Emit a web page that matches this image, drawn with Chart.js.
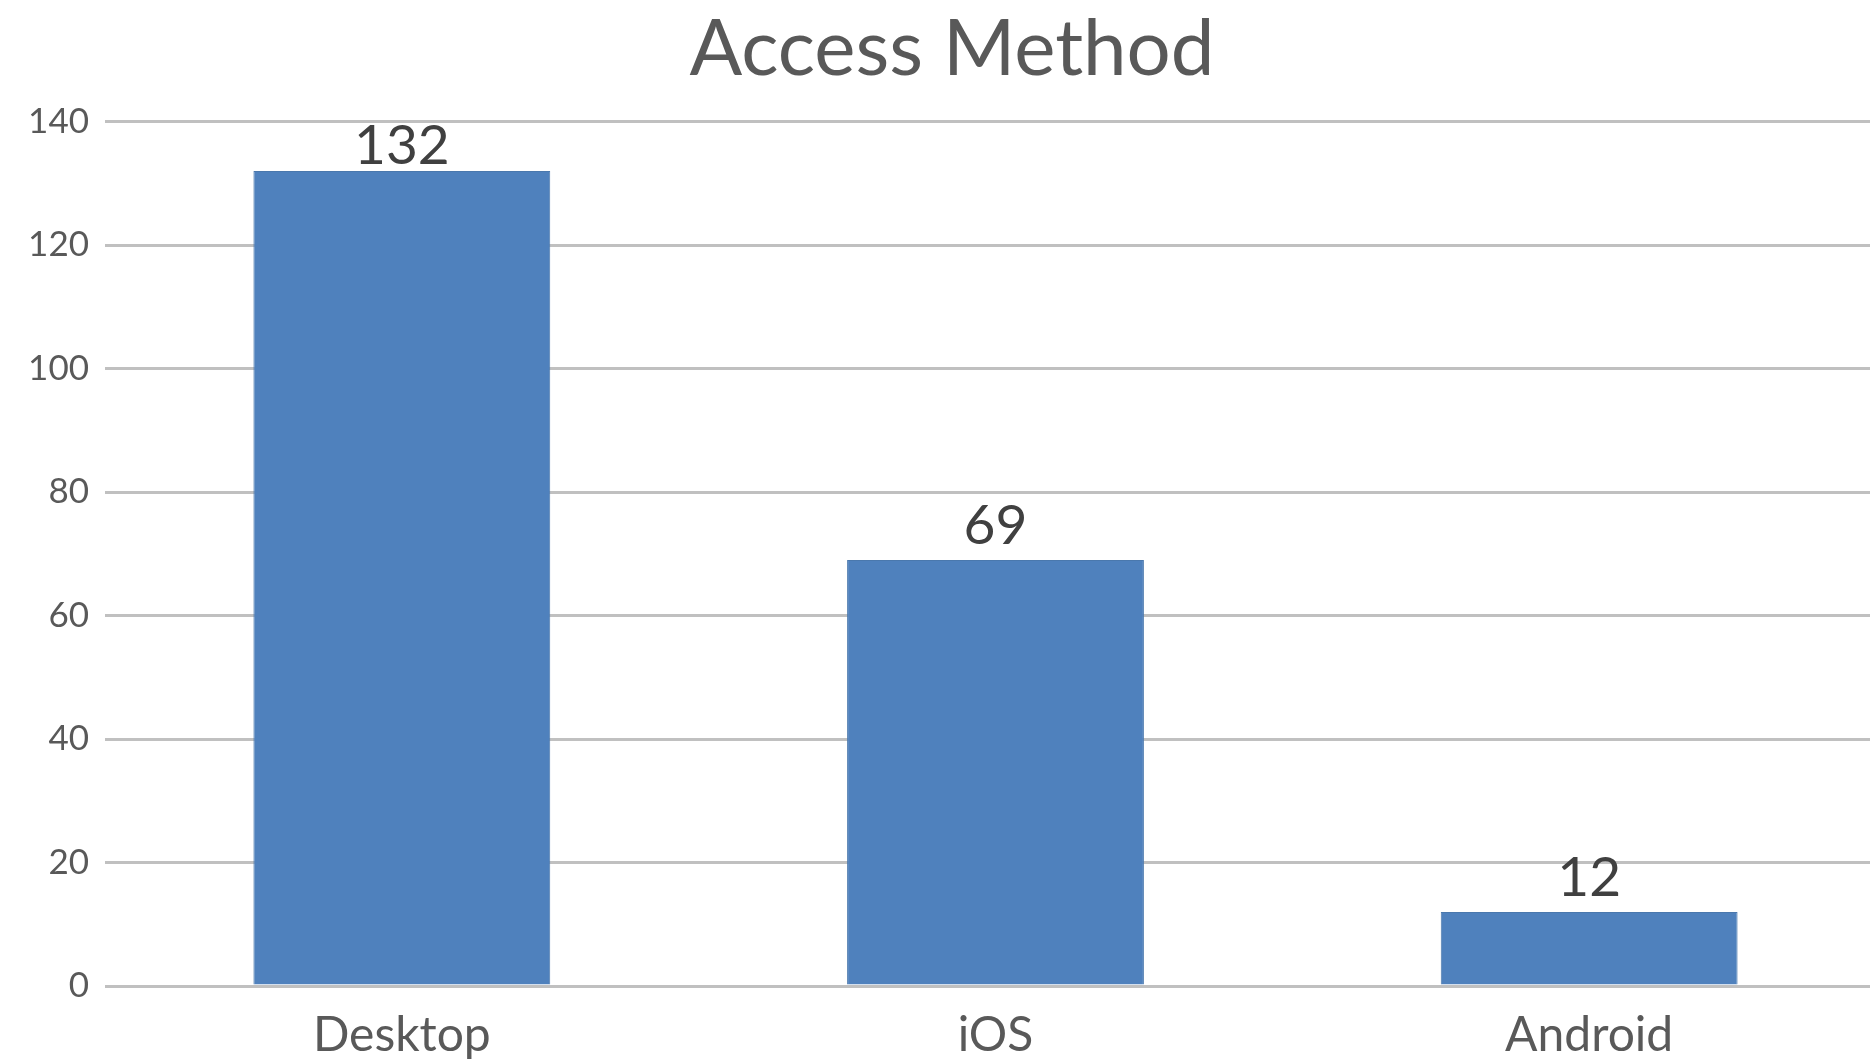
<!DOCTYPE html>
<html>
<head>
<meta charset="utf-8">
<script src="https://cdn.jsdelivr.net/npm/chart.js@4/dist/chart.umd.min.js"></script>
<style>
html,body{margin:0;padding:0;background:#fff;overflow:hidden}
#wrap{width:1890px;height:1059px;position:relative}
</style>
</head>
<body>
<div id="wrap"><canvas id="accessChart"></canvas></div>
<script>
// chart values
const categories = ["Desktop", "iOS", "Android"]
const counts = [132, 69, 12]
const yTicks = [0, 20, 40, 60, 80, 100, 120, 140]

const FONT = "Lato, 'Open Sans', sans-serif"

// value labels above bars
const barLabels = {
  id: "barLabels",
  afterDatasetsDraw(chart){
    const ctx = chart.ctx
    const meta = chart.getDatasetMeta(0)
    ctx.save()
    ctx.font = "55px " + FONT
    ctx.fillStyle = "#404040"
    ctx.textAlign = "center"
    ctx.textBaseline = "alphabetic"
    meta.data.forEach((bar, i)=>{
      // keep the top label from running into the title
      let y = Math.max(bar.y - 16, chart.chartArea.top + 42)
      ctx.fillText(String(counts[i]), bar.x, y)
    })
    ctx.restore()
  }
}

new Chart(document.getElementById("accessChart"), {
  type: "bar",
  data: {
    labels: categories,
    datasets: [{
      data: counts,
      backgroundColor: "#4F81BD",
      borderColor: "#4a78ad",
      borderWidth: 1,
      categoryPercentage: 1,
      barPercentage: 0.5
    }]
  },
  options: {
    responsive: true,
    maintainAspectRatio: false,
    animation: false,
    layout: { padding: { left: 18, right: 4, top: 0, bottom: 0 } },
    plugins: {
      legend: { display: false },
      tooltip: { enabled: false },
      title: {
        display: true,
        text: "Access Method",
        color: "#595959",
        font: { family: FONT, size: 78, weight: "normal" },
        padding: { top: 3, bottom: 25 }
      }
    },
    scales: {
      x: {
        afterFit(scale){ scale.height = 73 },
        grid: { display: false, drawTicks: false },
        border: { display: false },
        ticks: { color: "#595959", font: { family: FONT, size: 48 }, padding: 21 }
      },
      y: {
        min: 0,
        max: 140,
        afterBuildTicks(scale){ scale.ticks = yTicks.map(v=>({value: v})) },
        afterFit(scale){ scale.width = 87 },
        grid: { color: "#c0c0c0", lineWidth: 3, drawTicks: false },
        border: { display: false },
        ticks: { color: "#595959", font: { family: FONT, size: 35 }, padding: 16 }
      }
    }
  },
  plugins: [barLabels]
})
</script>
</body>
</html>
